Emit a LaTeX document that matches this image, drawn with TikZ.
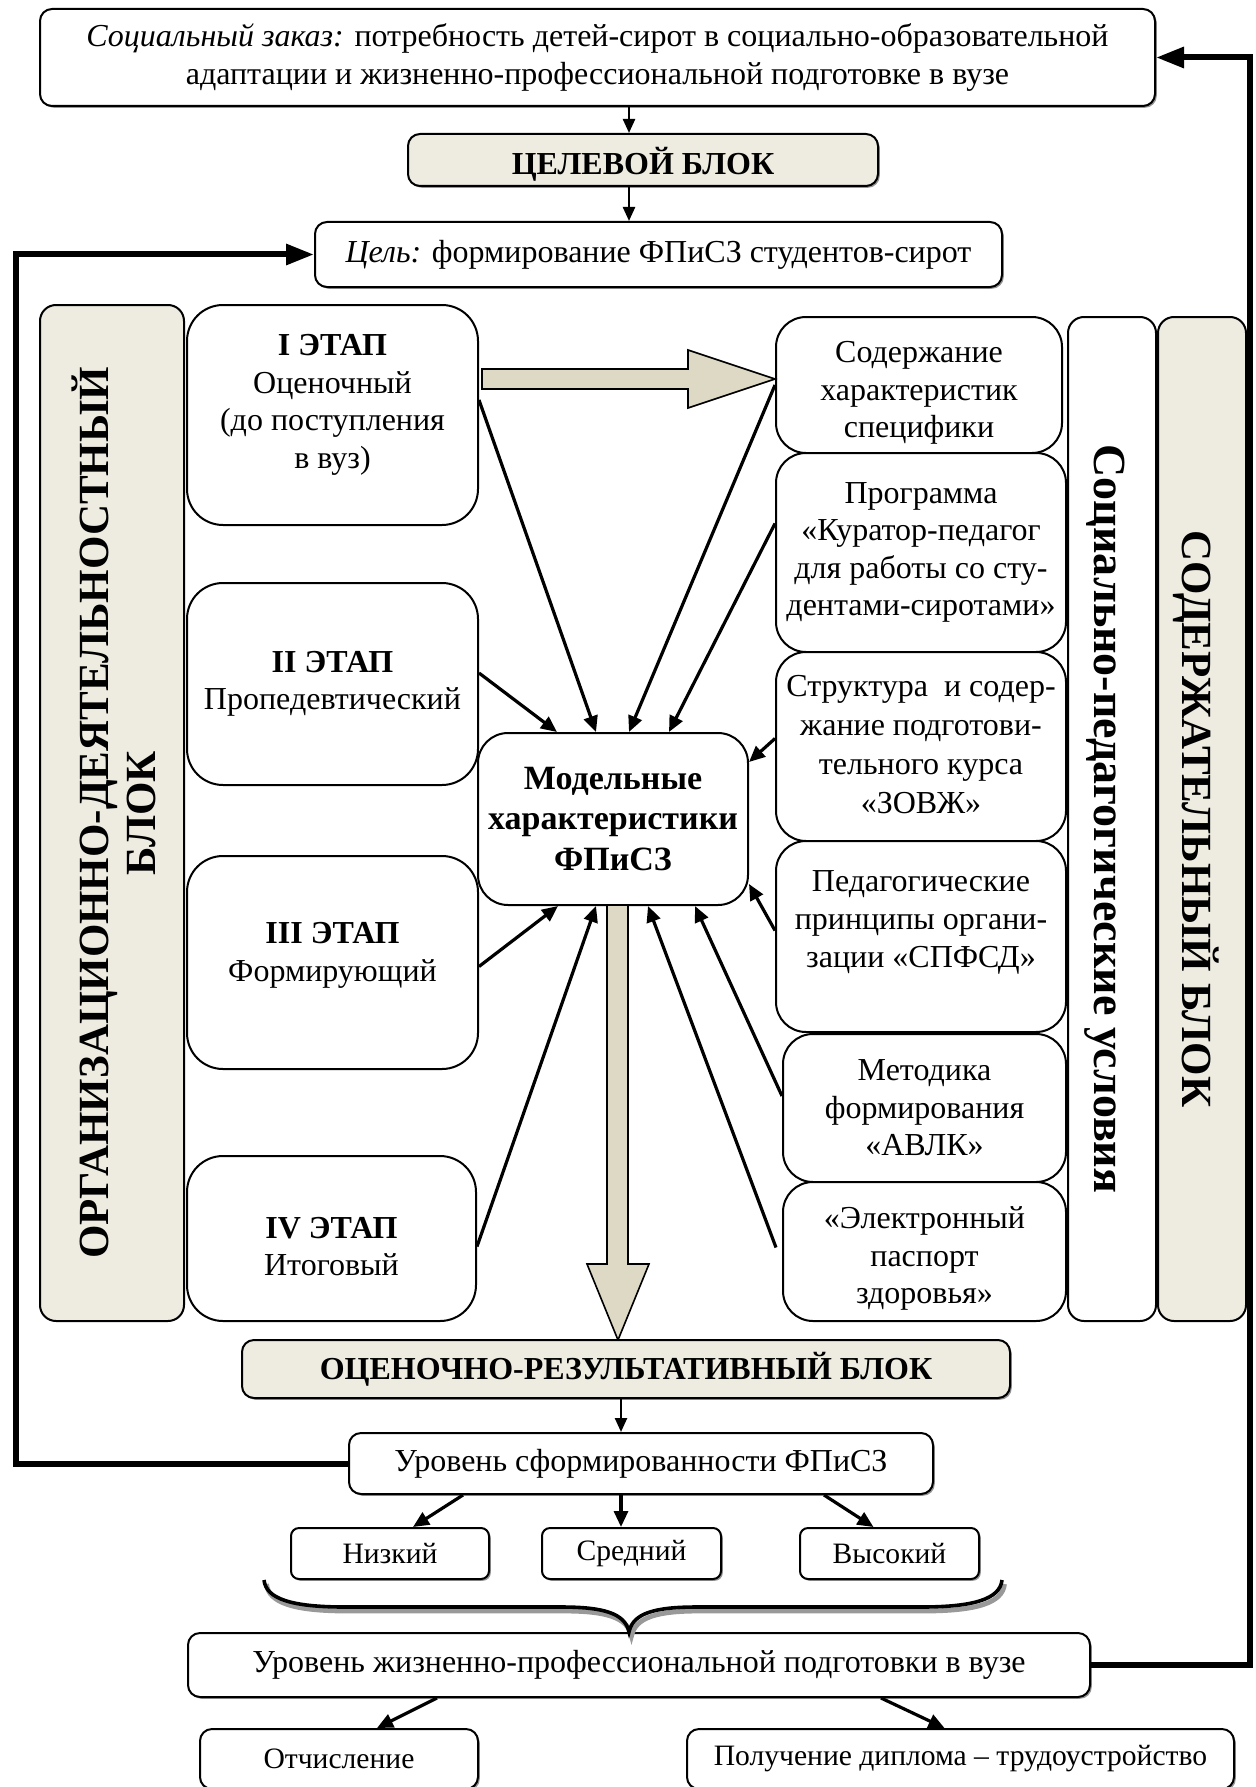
\documentclass[tikz,border=0pt]{standalone}
\usepackage{fontspec}
\setmainfont{Liberation Serif}
\usetikzlibrary{arrows.meta,shadows,calc}

\definecolor{paleBeige}{HTML}{EEECE1}
\definecolor{tanFill}{HTML}{DDD9C4}

% box by its corners: \blk[style]{x1}{y1}{x2}{y2}{name}{text}
\newcommand\blk[7][]{\node[#1, minimum width={(#4-#2)*0.5pt}, minimum height={(#5-#3)*0.5pt}] (#6) at ({(#2+#4)/2},{(#3+#5)/2}) {#7};}

\begin{document}
\begin{tikzpicture}[x=0.5pt,y=-0.5pt,
  every node/.style={font=\fontsize{16}{18.8}\selectfont, align=center, inner sep=2pt},
  box/.style={draw, line width=1pt, fill=white, rounded corners=6pt},
  sbox/.style={box, drop shadow={shadow xshift=0.9pt, shadow yshift=-0.9pt, fill=black!70, opacity=0.6}},
  lvl/.style={sbox, rounded corners=4pt},
  small/.style={font=\fontsize{14.8}{17.5}\selectfont},
  stage/.style={box, rounded corners=18pt},
  cond/.style={box, rounded corners=15pt},
  col/.style={box, rounded corners=8pt},
  boldtxt/.style={font=\fontsize{16}{18.8}\selectfont\bfseries},
  thinarr/.style={line width=1.2pt, -{Triangle[length=7pt,width=6pt]}},
  arr/.style={line width=1.6pt, -{Triangle[length=8pt,width=7pt]}},
  fb/.style={line width=3pt, -{Triangle[length=14pt,width=10pt]}},
  tanarrow/.style={draw, line width=0.8pt, fill=tanFill, line join=miter}
]
\useasboundingbox (0,0) rectangle (1256,1787);

% top of the scheme
\blk[sbox]{40}{9}{1155}{106}{zakaz}{\textit{Социальный заказ:} потребность детей-сирот в социально-образовательной\\адаптации и жизненно-профессиональной подготовке в вузе}
\blk[sbox, fill=paleBeige, boldtxt]{408}{134}{878}{186}{celevoy}{}
\node[boldtxt] (celevoyt) at ([yshift=-2pt]celevoy.center) {ЦЕЛЕВОЙ БЛОК};
\blk[sbox]{315}{222}{1002}{287}{cel}{\textit{Цель:} формирование ФПиСЗ студентов-сирот}

% organisational block and stages
\blk[col, fill=paleBeige]{40}{305}{184}{1321}{org}{}
\node[rotate=90, font=\fontsize{21.5}{23.5}\selectfont\bfseries] (orgtext) at ([xshift=1pt]org.center) {ОРГАНИЗАЦИОННО-ДЕЯТЕЛЬНОСТНЫЙ\\БЛОК};

\blk[stage]{187}{305}{478}{525}{st1}{}
\node (st1t) at ([yshift=5pt]st1.center) {\textbf{I ЭТАП}\\Оценочный\\(до поступления\\в вуз)};
\blk[stage]{187}{583}{478}{785}{st2}{\textbf{II ЭТАП}\\Пропедевтический}
\blk[stage]{187}{856}{478}{1069}{st3}{}
\node (st3t) at ([yshift=3.5pt]st3.center) {\textbf{III ЭТАП}\\Формирующий};
\blk[stage]{187}{1156}{476}{1321}{st4}{}
\node (st4t) at ([yshift=-4pt]st4.center) {\textbf{IV ЭТАП}\\Итоговый};

% model characteristics
\blk[cond, font=\fontsize{17}{20.2}\selectfont\bfseries]{478}{733}{748}{905}{model}{Модельные\\характеристики\\ФПиСЗ}

% conditions
\blk[cond]{776}{317}{1062}{453}{r1}{}
\node (r1t) at ([yshift=-4pt]r1.center) {Содержание\\характеристик\\специфики};
\blk[cond]{776}{453}{1066}{652}{r2}{Программа\\«Куратор-педагог\\для работы со сту-\\дентами-сиротами»}
\blk[cond]{776}{652}{1066}{841}{r3}{}
\node[font=\fontsize{16}{19.4}\selectfont] (r3t) at ([yshift=1pt]r3.center) {Структура~ и содер-\\жание подготови-\\тельного курса\\«ЗОВЖ»};
\blk[cond]{776}{841}{1066}{1032}{r4}{}
\node (r4t) at ([yshift=7pt]r4.center) {Педагогические\\принципы органи-\\зации «СПФСД»};
\blk[cond]{783}{1034}{1066}{1182}{r5}{Методика\\формирования\\«АВЛК»}
\blk[cond]{783}{1182}{1066}{1321}{r6}{}
\node (r6t) at ([yshift=-3.5pt]r6.center) {«Электронный\\паспорт\\здоровья»};

\blk[col]{1068}{317}{1156}{1321}{soc}{}
\node[rotate=-90, font=\fontsize{23}{26}\selectfont\bfseries] (soctext) at ([xshift=-3.5pt]soc.center) {Социально-педагогические условия};
\blk[col, fill=paleBeige]{1158}{317}{1246}{1321}{sod}{}
\node[rotate=-90, font=\fontsize{21.5}{24}\selectfont\bfseries] (sodtext) at ([xshift=-3pt]sod.center) {СОДЕРЖАТЕЛЬНЫЙ БЛОК};

% broad tan arrows
\draw[tanarrow] (482,369) -- (688,369) -- (688,350) -- (775,379) -- (688,408) -- (688,389) -- (482,389) -- cycle;
\draw[tanarrow] (607,906) -- (607,1264) -- (587,1264) -- (618,1340) -- (649,1264) -- (628,1264) -- (628,906);

% evaluation part
\blk[sbox, fill=paleBeige, boldtxt]{242}{1340}{1010}{1398}{ocen}{ОЦЕНОЧНО-РЕЗУЛЬТАТИВНЫЙ БЛОК}
\blk[sbox]{349}{1433}{933}{1494}{ur1}{Уровень сформированности ФПиСЗ}
\blk[lvl, small]{291}{1528}{489}{1579}{low}{Низкий}
\blk[lvl, small]{542}{1528}{721}{1579}{mid}{Средний}
\blk[lvl, small]{800}{1528}{979}{1579}{high}{Высокий}
\blk[sbox]{188}{1633}{1090}{1697}{ur2}{Уровень жизненно-профессиональной подготовки в вузе}
\blk[sbox, small]{200}{1729}{478}{1789}{ex1}{Отчисление}
\blk[sbox, small]{687}{1729}{1234}{1789}{ex2}{Получение диплома – трудоустройство}

% brace gathering the three levels (with its soft shadow)
\def\bracepath{(264,1580) .. controls (266,1599) and (292,1607) .. (345,1607)
  -- (561,1607) .. controls (603,1607) and (625,1613) .. (629,1632)
  .. controls (633,1613) and (655,1607) .. (697,1607)
  -- (921,1607) .. controls (974,1607) and (1000,1599) .. (1002,1580)}
\draw[black!40, line width=2.4pt, shift={(2.5,4)}] \bracepath;
\draw[line width=1.8pt] \bracepath;

% vertical flow arrows
\coordinate (ax) at (629,0);
\coordinate (bx) at (621,0);
\draw[thinarr] (zakaz.south -| ax) -- (celevoy.north -| ax);
\draw[thinarr] (celevoy.south -| ax) -- (cel.north -| ax);
\draw[thinarr] (ocen.south -| bx) -- (ur1.north -| bx);
\draw[arr] ([xshift=-89pt]ur1.south) -- ([xshift=11.5pt]low.north);
\draw[arr] (ur1.south -| bx) -- (mid.north -| bx);
\draw[arr] ([xshift=91.5pt]ur1.south) -- ([xshift=-8pt]high.north);
\draw[arr] ([xshift=-101pt]ur2.south) -- ([xshift=19pt]ex1.north);
\draw[arr] ([xshift=121pt]ur2.south) -- ([xshift=-8pt]ex2.north);

% stages into the model
\draw[arr] ([yshift=7.5pt]st1.east) -- ([xshift=-8.5pt]model.north);
\draw[arr] ([yshift=5.5pt]st2.east) -- ([xshift=-28pt]model.north);
\draw[arr] ([yshift=-2pt]st3.east) -- ([xshift=-27.5pt]model.south);
\draw[arr] ([yshift=-4pt]st4.east) -- ([xshift=-8.5pt]model.south);

% conditions into the model
\draw[arr] (r1.west) -- ([xshift=8pt]model.north);
\draw[arr] ([yshift=14.5pt]r2.west) -- ([xshift=28pt]model.north);
\draw[arr] ([yshift=4pt]r3.west) -- ([yshift=28.5pt]model.east);
\draw[arr] ([yshift=3pt]r4.west) -- ([yshift=-32.5pt]model.east);
\draw[arr] ([yshift=6pt]r5.west) -- ([xshift=41pt]model.south);
\draw[arr] ([xshift=-3pt,yshift=2pt]r6.west) -- ([xshift=17.5pt]model.south);

% feedback loops
\coordinate (fbL) at (16,0);
\coordinate (fbR) at (1250,0);
\draw[fb] (ur1.west) -- (ur1.west -| fbL) |- (cel.west);
\draw[fb] (ur2.east) -- (ur2.east -| fbR) |- (zakaz.east);
\end{tikzpicture}
\end{document}
